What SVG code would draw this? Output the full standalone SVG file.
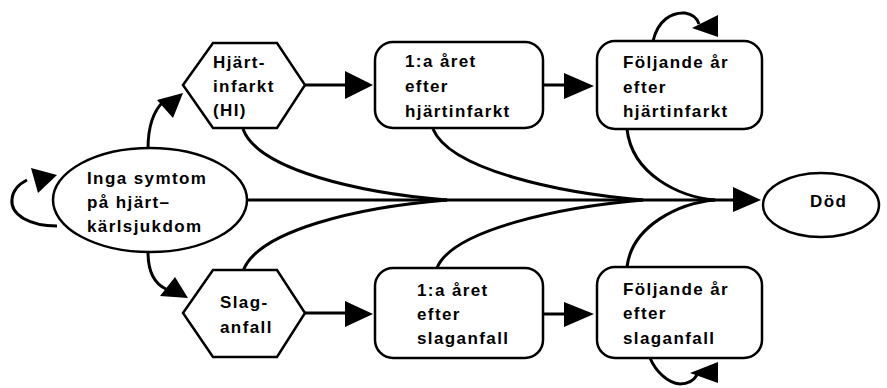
<svg xmlns="http://www.w3.org/2000/svg" width="887" height="388" viewBox="0 0 887 388">
<style>
.n{fill:#fff;stroke:#000;stroke-width:2.5}
.c{fill:none;stroke:#000;stroke-width:3}
.h{fill:#000;stroke:none}
text{font-family:"Liberation Sans",Arial,sans-serif;font-weight:bold;font-size:17px;fill:#000;letter-spacing:1.4px}
</style>
<rect width="887" height="388" fill="#fff"/>
<g id="connectors">
<path class="c" d="M243,129 C258,170 360,193 447,200"/>
<path class="c" d="M243,271 C258,230 360,207 447,200"/>
<path class="c" d="M433,129 C450,170 560,193 643,200"/>
<path class="c" d="M437,268 C452,230 560,207 643,200"/>
<path class="c" d="M627,129 C632,175 680,197 715,200"/>
<path class="c" d="M627,267 C632,225 680,203 715,200"/>
<path class="c" d="M247,200 L735,200"/>
<polygon class="h" points="733,187 733,212 761,200"/>
<path class="c" d="M148,149 C148,126 154,110 164,101"/>
<polygon class="h" points="157,100 183,93 173,118"/>
<path class="c" d="M148,252 C148,272 155,284 166,289"/>
<polygon class="h" points="160,296 175,277 188,298"/>
<path class="c" d="M57,226 C30,226 10,215 12,199 C13,189 19,184 27,180"/>
<polygon class="h" points="31,168 57,175 38,193"/>
<path class="c" d="M305,85 L348,85"/>
<polygon class="h" points="345,71 345,99 373,85"/>
<path class="c" d="M305,313 L348,313"/>
<polygon class="h" points="345,301 345,327 373,314"/>
<path class="c" d="M543,85 L566,85"/>
<polygon class="h" points="564,73 564,99 594,86"/>
<path class="c" d="M543,314 L566,314"/>
<polygon class="h" points="564,302 564,327 594,314"/>
<path class="c" d="M653,41 C658,20 672,12 685,13 C692,14 697,18 699,24"/>
<polygon class="h" points="692,28 718,15 718,37"/>
<path class="c" d="M650,358 C656,372 668,383 680,384 C688,384 694,380 697,375"/>
<polygon class="h" points="690,373 718,362 718,383"/>
</g>
<g id="inga">
<ellipse class="n" cx="150" cy="200" rx="97" ry="52"/>
<text x="87" y="184">Inga symtom</text>
<text x="87" y="208">på hjärt–</text>
<text x="87" y="232">kärlsjukdom</text>
</g>
<g id="hi">
<polygon class="n" points="183,85 213,43 277,43 305,85 277,128 213,128"/>
<text x="213" y="68">Hjärt-</text>
<text x="213" y="92">infarkt</text>
<text x="213" y="116">(HI)</text>
</g>
<g id="slag">
<polygon class="n" points="183,313 213,270 277,270 305,313 277,357 213,357"/>
<text x="220" y="308">Slag-</text>
<text x="220" y="333">anfall</text>
</g>
<g id="hi1">
<rect class="n" x="375" y="42" width="168" height="86" rx="18"/>
<text x="405" y="67">1:a året</text>
<text x="405" y="92">efter</text>
<text x="405" y="117">hjärtinfarkt</text>
</g>
<g id="slag1">
<rect class="n" x="375" y="268" width="168" height="90" rx="18"/>
<text x="417" y="296">1:a året</text>
<text x="417" y="320">efter</text>
<text x="417" y="344">slaganfall</text>
</g>
<g id="hi2">
<rect class="n" x="597" y="41" width="165" height="88" rx="18"/>
<text x="623" y="68">Följande år</text>
<text x="623" y="93">efter</text>
<text x="623" y="117">hjärtinfarkt</text>
</g>
<g id="slag2">
<rect class="n" x="597" y="267" width="165" height="91" rx="18"/>
<text x="623" y="295">Följande år</text>
<text x="623" y="319">efter</text>
<text x="623" y="344">slaganfall</text>
</g>
<g id="dod">
<ellipse class="n" cx="821" cy="205" rx="58" ry="32"/>
<text x="810" y="207">Död</text>
</g>
</svg>
